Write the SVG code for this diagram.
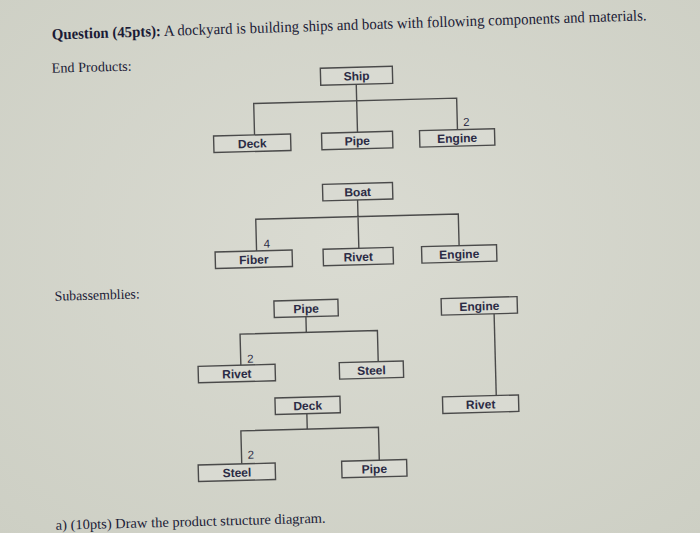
<svg xmlns="http://www.w3.org/2000/svg" width="700" height="533" viewBox="0 0 700 533">
<defs>
<radialGradient id="bg" cx="0.5" cy="0.45" r="0.75">
<stop offset="0" stop-color="#dadbd2"/>
<stop offset="1" stop-color="#cdcfc4"/>
</radialGradient>
<style>
.box{fill:#d9dad2;stroke:#4a4a4a;stroke-width:1.4}
.lbl{font-family:"Liberation Sans",Arial,sans-serif;font-weight:bold;font-size:12px;fill:#2b2b45;text-anchor:middle}
.qty{font-family:"Liberation Sans",Arial,sans-serif;font-size:11.5px;fill:#2b2b45;text-anchor:middle}
.ser{font-family:"Liberation Serif","Times New Roman",serif;fill:#1b1b36}
.con{fill:none;stroke:#4a4a4a;stroke-width:1.4}
</style>
</defs>
<rect x="0" y="0" width="700" height="533" fill="url(#bg)"/>
<g transform="rotate(-1.5 350 266)">
<g id="texts">
<text class="ser" x="58" y="30" font-size="15.5" textLength="595" lengthAdjust="spacingAndGlyphs" transform="rotate(-0.35 355 25)"><tspan font-weight="bold">Question (45pts):</tspan> A dockyard is building ships and boats with following components and materials.</text>
<text class="ser" x="57" y="65" font-size="14" textLength="80" lengthAdjust="spacingAndGlyphs">End Products:</text>
<text class="ser" x="54" y="293" font-size="14" textLength="85" lengthAdjust="spacingAndGlyphs">Subassemblies:</text>
<text class="ser" x="49" y="522" font-size="14" textLength="270" lengthAdjust="spacingAndGlyphs">a) (10pts) Draw the product structure diagram.</text>
</g>
<g id="connectors">
<path class="con" d="M361 84.5V101M258 132.5V101H461V132.5M361 101V132.5"/>
<path class="con" d="M359.3 200.2V216.8M257 248.5V216.8H459.6V248.5M359.3 216.8V248.5"/>
<path class="con" d="M304.6 315.5V331.2M238.3 362.3V331.2H375.7V362.3"/>
<path class="con" d="M303 412.5V428M236.6 461V428H374.2V461"/>
<path class="con" d="M492.8 317.5V399.3"/>
</g>
<g id="qty">
<text class="qty" x="470" y="129">2</text>
<text class="qty" x="267.5" y="245.5">4</text>
<text class="qty" x="248" y="360">2</text>
<text class="qty" x="246" y="456">2</text>
</g>
<g id="ship"><rect class="box" x="325.5" y="67.5" width="72" height="17"/><text class="lbl" x="361.5" y="80.5">Ship</text></g>
<g id="ship-deck"><rect class="box" x="217" y="132.5" width="77" height="16.5"/><text class="lbl" x="255.5" y="145.3">Deck</text></g>
<g id="ship-pipe"><rect class="box" x="325" y="132.5" width="71" height="16.5"/><text class="lbl" x="360.5" y="145.3">Pipe</text></g>
<g id="ship-engine"><rect class="box" x="423" y="132.5" width="75" height="16.5"/><text class="lbl" x="460.5" y="145.3">Engine</text></g>
<g id="boat"><rect class="box" x="324.6" y="183.7" width="70" height="16.5"/><text class="lbl" x="359.6" y="196.5">Boat</text></g>
<g id="boat-fiber"><rect class="box" x="215.5" y="248.5" width="77" height="16.5"/><text class="lbl" x="254" y="261.3">Fiber</text></g>
<g id="boat-rivet"><rect class="box" x="323.5" y="248.5" width="70" height="16.5"/><text class="lbl" x="358.5" y="261.3">Rivet</text></g>
<g id="boat-engine"><rect class="box" x="422" y="248.5" width="75" height="16.5"/><text class="lbl" x="459.5" y="261.3">Engine</text></g>
<g id="pipe"><rect class="box" x="273" y="299" width="64" height="16.5"/><text class="lbl" x="305" y="311.8">Pipe</text></g>
<g id="pipe-rivet"><rect class="box" x="195.5" y="362.3" width="77" height="16.5"/><text class="lbl" x="234" y="375.1">Rivet</text></g>
<g id="pipe-steel"><rect class="box" x="336.7" y="362.3" width="64" height="16.5"/><text class="lbl" x="368.7" y="375.1">Steel</text></g>
<g id="deck"><rect class="box" x="271.5" y="396" width="65" height="16.5"/><text class="lbl" x="304" y="408.8">Deck</text></g>
<g id="deck-steel"><rect class="box" x="193" y="461" width="77" height="16.5"/><text class="lbl" x="231.5" y="473.8">Steel</text></g>
<g id="deck-pipe"><rect class="box" x="336.5" y="461" width="65" height="16.5"/><text class="lbl" x="369" y="473.8">Pipe</text></g>
<g id="engine"><rect class="box" x="440.2" y="301" width="76" height="16.5"/><text class="lbl" x="478.2" y="313.8">Engine</text></g>
<g id="engine-rivet"><rect class="box" x="439" y="399.3" width="76" height="16.5"/><text class="lbl" x="477" y="412.1">Rivet</text></g>
</g>
</svg>
